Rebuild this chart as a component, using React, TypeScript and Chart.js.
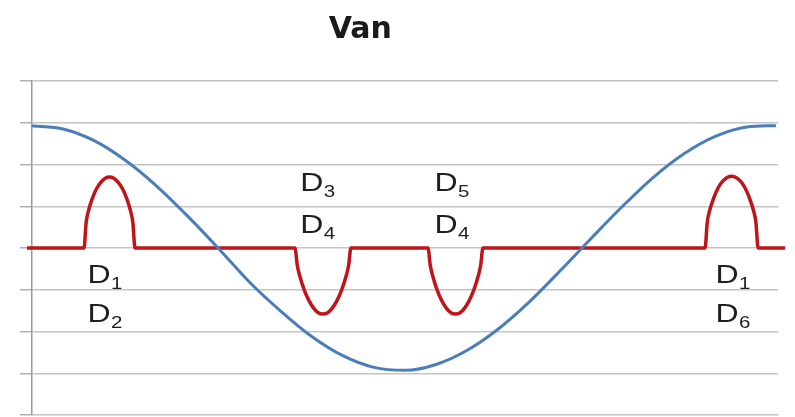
import React, { useEffect, useRef } from "react";
import { Chart, registerables } from "chart.js";

Chart.register(...registerables);

const titleText = "Van";

const yMin = -4;
const yMax = 4;
const xMin = 0;
const xMax = 360;

const blueX = [0, 15, 30, 45, 60, 75, 90, 105, 120, 135, 150, 165, 180, 195, 210, 225, 240, 255, 270, 285, 300, 315, 330, 345, 359];
const blueY = [2.93, 2.85, 2.57, 2.1, 1.49, 0.77, -0.01, -0.82, -1.51, -2.12, -2.58, -2.86, -2.93, -2.79, -2.45, -1.94, -1.29, -0.54, 0.24, 1.0, 1.7, 2.27, 2.68, 2.9, 2.93];

const redX = [
  -2.4,
  25.1, 26.13, 27.15, 29.2, 31.25, 33.3, 35.35, 37.4, 39.45, 41.5, 43.55, 45.6, 47.65, 48.67, 49.7,
  126.9, 128.03, 129.15, 131.4, 133.65, 135.9, 138.15, 140.4, 142.65, 144.9, 147.15, 149.4, 151.65, 152.78, 153.9,
  191.1, 192.2, 193.31, 195.52, 197.73, 199.94, 202.15, 204.35, 206.56, 208.77, 210.98, 213.19, 215.4, 216.5, 217.6,
  324.8, 325.87, 326.93, 329.07, 331.2, 333.33, 335.47, 337.6, 339.73, 341.87, 344.0, 346.13, 348.27, 349.33, 350.4,
  363.4,
];
const redY = [
  0,
  0, 0.61, 0.87, 1.2, 1.43, 1.58, 1.67, 1.7, 1.67, 1.58, 1.43, 1.2, 0.87, 0.61, 0,
  0, -0.42, -0.66, -1.01, -1.26, -1.44, -1.55, -1.58, -1.55, -1.44, -1.26, -1.01, -0.66, -0.42, 0,
  0, -0.42, -0.66, -1.01, -1.26, -1.44, -1.55, -1.58, -1.55, -1.44, -1.26, -1.01, -0.66, -0.42, 0,
  0, 0.62, 0.88, 1.21, 1.45, 1.6, 1.69, 1.72, 1.69, 1.6, 1.45, 1.21, 0.88, 0.62, 0,
  0,
];

const labelX = [26.8, 26.8, 129.5, 129.5, 194.2, 194.2, 329.8, 329.8];
const labelY = [-0.84, -1.77, 1.36, 0.36, 1.36, 0.36, -0.84, -1.77];
const labelMain = ["D", "D", "D", "D", "D", "D", "D", "D"];
const labelSub = ["1", "2", "3", "4", "5", "4", "1", "6"];

const textPlugin = {
  id: "textPlugin",
  afterDatasetsDraw(chart: any) {
    const ctx = chart.ctx as CanvasRenderingContext2D;
    const xs = chart.scales.x;
    const ys = chart.scales.y;
    const stretch = 1.28;
    ctx.save();
    ctx.fillStyle = "#1f1f1f";
    ctx.textBaseline = "alphabetic";
    ctx.textAlign = "left";
    for (let i = 0; i < labelX.length; i++) {
      const px = xs.getPixelForValue(labelX[i]);
      const py = ys.getPixelForValue(labelY[i]);
      ctx.save();
      ctx.translate(px, py);
      ctx.scale(stretch, 1);
      ctx.font = "25px 'Liberation Sans', Arial, sans-serif";
      ctx.fillText(labelMain[i], 0, 0);
      const w = ctx.measureText(labelMain[i]).width;
      ctx.font = "16px 'Liberation Sans', Arial, sans-serif";
      ctx.fillText(labelSub[i], w + 0.3, 6);
      ctx.restore();
    }
    ctx.restore();

    ctx.save();
    ctx.fillStyle = "#1a1a1a";
    ctx.font = "bold 30px 'DejaVu Sans', sans-serif";
    ctx.textAlign = "center";
    ctx.textBaseline = "alphabetic";
    const area = chart.chartArea;
    ctx.fillText(titleText, area.left + (area.right - area.left) * 0.44, 38);
    ctx.restore();
  },
};

export default function App() {
  const ref = useRef<HTMLCanvasElement | null>(null);
  useEffect(() => {
    if (!ref.current) return;
    const blue = blueX.map((x, i) => ({ x, y: blueY[i] }));
    const red = redX.map((x, i) => ({ x, y: redY[i] }));
    const chart = new Chart(ref.current, {
      type: "line",
      data: {
        datasets: [
          {
            data: blue,
            borderColor: "#4a7ebb",
            borderWidth: 3,
            pointRadius: 0,
            cubicInterpolationMode: "monotone",
            clip: false as any,
            fill: false,
          },
          {
            data: red,
            borderColor: "#c0141b",
            borderWidth: 3.5,
            pointRadius: 0,
            cubicInterpolationMode: "monotone",
            borderJoinStyle: "round",
            clip: false as any,
            fill: false,
          },
        ],
      },
      options: {
        animation: false,
        responsive: false,
        parsing: false as any,
        layout: { padding: { left: 20, right: 17, top: 81, bottom: 2 } },
        plugins: {
          legend: { display: false },
          title: { display: false },
          tooltip: { enabled: false },
        },
        scales: {
          x: {
            type: "linear",
            min: xMin,
            max: xMax,
            display: false,
          },
          y: {
            type: "linear",
            min: yMin,
            max: yMax,
            ticks: { display: false, stepSize: 1 },
            grid: {
              color: "#c4c4c4",
              lineWidth: 1.5,
              drawTicks: true,
              tickLength: 12,
              tickColor: "#b0b0b0",
            },
            border: { display: true, color: "#9a9a9a", width: 1.5 },
          },
        },
      },
      plugins: [textPlugin],
    });
    return () => chart.destroy();
  }, []);
  return (
    <div style={{ position: "fixed", left: 0, top: 0, width: 795, height: 417, background: "#fff" }}>
      <canvas ref={ref} width={795} height={417} style={{ display: "block" }} />
    </div>
  );
}
